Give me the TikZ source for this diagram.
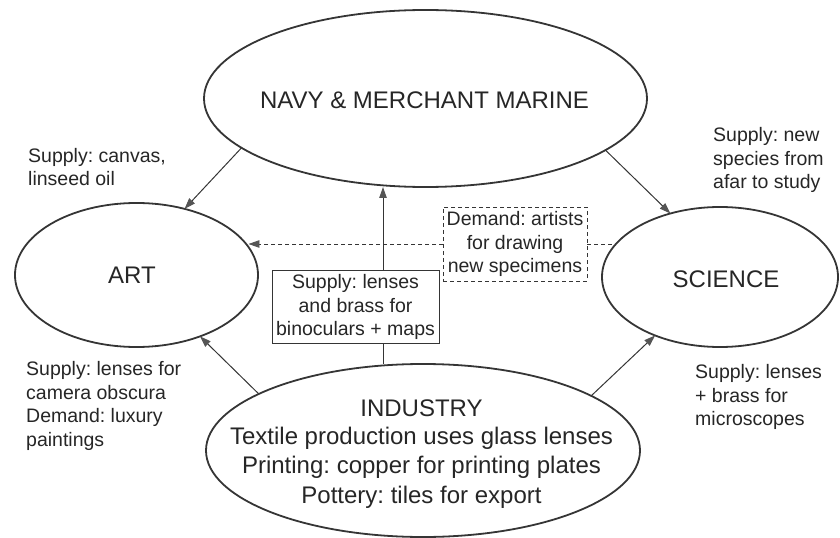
\documentclass[tikz,border=0pt]{standalone}
\usepackage{fontspec}
\setmainfont{Liberation Sans}
\usetikzlibrary{arrows.meta,shapes.geometric}
\definecolor{ink}{HTML}{262626}
\definecolor{linec}{HTML}{353535}
\definecolor{tipc}{HTML}{555555}
\frenchspacing
\begin{document}
\begin{tikzpicture}[x=1bp,y=-1bp,
  ell/.style={ellipse,draw=linec,line width=1.8bp,inner sep=0pt,outer sep=0pt},
  bigtext/.style={font=\fontsize{24bp}{29.5bp}\selectfont,text=ink,align=center,inner sep=0pt},
  lbl/.style={font=\fontsize{19.5bp}{23.5bp}\selectfont,text=ink,align=left,inner sep=0pt,anchor=west},
  boxtext/.style={font=\fontsize{19.5bp}{23.5bp}\selectfont,text=ink,align=center,inner sep=0pt,outer sep=0pt},
  sbox/.style={boxtext,draw=linec,line width=1bp,minimum width=167bp,minimum height=72bp},
  dbox/.style={boxtext,draw=linec,line width=0.9bp,dash pattern=on 4bp off 3bp,minimum width=144bp,minimum height=74bp},
  conn/.style={draw=linec,line width=1bp},
  arr/.style={conn,-{Triangle[length=11bp,width=7.5bp,fill=tipc,color=tipc]}},
  dline/.style={draw=linec,line width=0.9bp,dash pattern=on 4bp off 3bp}
]
\useasboundingbox (0,0) rectangle (840,538);

% ellipses
\node[ell,minimum width=443bp,minimum height=177bp] (navy) at (425.5,98.5) {};
\node[bigtext] (navyt) at (424.5,100) {NAVY \& MERCHANT MARINE};
\node[ell,minimum width=243bp,minimum height=144bp] (art) at (136.5,275) {};
\node[bigtext] (artt) at (132,275) {ART};
\node[ell,minimum width=236bp,minimum height=140bp] (sci) at (720,277) {};
\node[bigtext] (scit) at (726,279) {SCIENCE};
\node[ell,minimum width=434bp,minimum height=173bp] (ind) at (423,450.5) {};
\node[bigtext] (indt) at (421.5,454) {INDUSTRY\\[-1.5bp]Textile production uses glass lenses\\Printing: copper for printing plates\\Pottery: tiles for export};

% boxes
\node[sbox] (sup) at (355.5,307) {Supply: lenses\\and brass for\\binoculars + maps};
\node[dbox] (dem) at (515,244) {Demand: artists\\for drawing\\new specimens};
\coordinate (vx) at (383,0);

% connectors
\draw[arr] (navy.195) -- (art.54);
\draw[arr] (navy.344) -- (sci.128);
\draw[arr] (ind.161) -- (art.316);
\draw[arr] (ind.18) -- (sci.222);
\draw[conn] (sup.south -| vx) -- (ind.north -| vx);
\draw[arr] (sup.north -| vx) -- (navy.south -| vx);
\draw[dline] (dem.east) -- (sci.164 |- dem.east);
\draw[dline,-{Triangle[length=11bp,width=7.5bp,fill=tipc,color=tipc]}] (dem.west) -- (art.14 |- dem.west);

% labels
\node[lbl] (l1) at (28,167) {Supply: canvas,\\linseed oil};
\node[lbl] (l2) at (713,160) {Supply: new\\species from\\afar to study};
\node[lbl] (l3) at (26,406) {Supply: lenses for\\camera obscura\\Demand: luxury\\paintings};
\node[lbl] (l4) at (695,397) {Supply: lenses\\+ brass for\\microscopes};
\end{tikzpicture}
\end{document}
